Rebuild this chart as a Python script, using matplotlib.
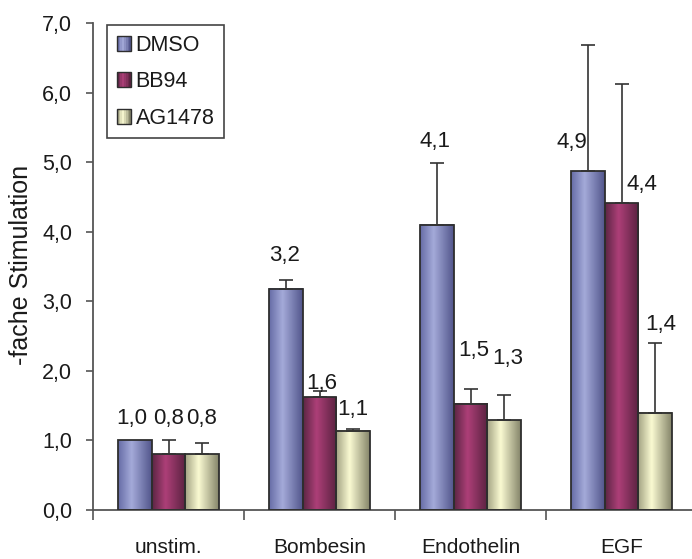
import numpy as np
import matplotlib
matplotlib.use("Agg")
import matplotlib.pyplot as plt
from matplotlib.patches import Rectangle
from matplotlib.legend_handler import HandlerBase
from matplotlib.colors import to_rgb

plt.rcParams['font.family'] = ['Liberation Sans', 'DejaVu Sans']

# ---- data ----
categories = ["unstim.", "Bombesin", "Endothelin", "EGF"]
series_names = ["DMSO", "BB94", "AG1478"]
dmso = [1.00, 3.18, 4.10, 4.87]
bb94 = [0.80, 1.62, 1.53, 4.41]
ag1478 = [0.80, 1.14, 1.29, 1.40]
dmso_err = [0.00, 0.13, 0.89, 1.81]
bb94_err = [0.20, 0.09, 0.21, 1.72]
ag1478_err = [0.17, 0.02, 0.36, 1.00]
y_ticks = [0, 1, 2, 3, 4, 5, 6, 7]

# label offsets (pixels) from bar top: (dx, dy)
label_offsets = [
    [(-3, 22), (-1, 33), (-2, 83), (-16, 29)],
    [(0, 36), (2, 14), (3, 53), (20, 19)],
    [(0, 36), (0, 21), (4, 62), (6, 88)],
]

values = [dmso, bb94, ag1478]
errors = [dmso_err, bb94_err, ag1478_err]

# gradient colour stops (left edge, highlight, right edge)
grad = [
    ("#666ca6", "#a4aad9", "#52568c"),
    ("#5c2644", "#ad3f78", "#5a2240"),
    ("#a3a383", "#fafad2", "#85856a"),
]

def gradient_rgb(stops, n=60):
    t = np.linspace(0, 1, n)
    c0, c1, c2 = (np.array(to_rgb(c)) for c in stops)
    out = np.zeros((n, 3))
    for i, ti in enumerate(t):
        if ti < 0.4:
            f = ti / 0.4
            out[i] = c0 * (1 - f) + c1 * f
        else:
            f = (ti - 0.4) / 0.6
            out[i] = c1 * (1 - f) + c2 * f
    return out[None, :, :]

fig = plt.figure(figsize=(6.92, 5.59), dpi=100)
ax = fig.add_axes([93 / 692, 49 / 559, 599 / 692, 487 / 559])

bar_w = 0.222
x = np.arange(len(categories))
edge = "#2e2e2e"
for s in range(3):
    offs = (s - 1) * bar_w
    img = gradient_rgb(grad[s])
    for i in range(len(categories)):
        v = values[s][i]
        x0 = x[i] + offs - bar_w / 2
        ax.imshow(img, extent=[x0, x0 + bar_w, 0, v], aspect='auto',
                  interpolation='bilinear', zorder=2)
        ax.add_patch(Rectangle((x0, 0), bar_w, v, facecolor='none',
                               edgecolor=edge, lw=1.3, zorder=3))
        e = errors[s][i]
        if e > 0:
            ax.errorbar(x[i] + offs, v, yerr=[[0], [e]], fmt='none',
                        ecolor="#333333", elinewidth=1.2, capsize=5,
                        capthick=1.2, zorder=4)
        lbl = f"{v:.1f}".replace(".", ",")
        dx, dy = label_offsets[s][i]
        ax.annotate(lbl, (x[i] + offs, v), xytext=(dx, dy),
                    textcoords='offset pixels', ha='center', va='center',
                    fontsize=16, color="#1a1a1a", zorder=5)

ax.set_xlim(-0.5, -0.5 + 599 / 151)
ax.set_ylim(0, 7)

for sp in ["top", "right"]:
    ax.spines[sp].set_visible(False)
for sp in ["left", "bottom"]:
    ax.spines[sp].set_color("#555555")
    ax.spines[sp].set_linewidth(1.3)

ax.set_yticks(y_ticks)
ax.set_yticklabels([f"{t:.1f}".replace(".", ",") for t in y_ticks])
ax.tick_params(axis='y', direction='out', length=5, width=1.2,
               color="#555555", labelsize=15.5, labelcolor="#1a1a1a", pad=10)

ax.set_xticks(np.arange(-0.5, 3.0, 1.0))
ax.set_xticklabels([])
ax.tick_params(axis='x', which='major', direction='out', length=7,
               width=1.2, color="#555555")
ax.set_xticks(x, minor=True)
ax.set_xticklabels(categories, minor=True)
ax.tick_params(axis='x', which='minor', length=0, labelsize=15,
               labelcolor="#1a1a1a", pad=20)

ax.set_ylabel("-fache Stimulation", fontsize=18, color="#1a1a1a")
ax.yaxis.set_label_coords((33 - 93) / 599, (510 - 264.5) / 487)


class GradHandler(HandlerBase):
    def __init__(self, stops):
        super().__init__()
        self.stops = stops

    def create_artists(self, legend, orig_handle, xdescent, ydescent,
                       width, height, fontsize, trans):
        arts = []
        img = gradient_rgb(self.stops, n=8)[0]
        n = len(img)
        for k in range(n):
            r = Rectangle((-xdescent + k * width / n, -ydescent), width / n,
                          height, facecolor=img[k], edgecolor='none',
                          transform=trans)
            arts.append(r)
        arts.append(Rectangle((-xdescent, -ydescent), width, height,
                              facecolor='none', edgecolor=edge, lw=1.0,
                              transform=trans))
        return arts


handles = [Rectangle((0, 0), 1, 1) for _ in range(3)]
leg = ax.legend(handles, series_names,
                handler_map={handles[i]: GradHandler(grad[i]) for i in range(3)},
                loc='upper left', bbox_to_anchor=((107 - 93) / 599, (510 - 25) / 487),
                borderaxespad=0, fontsize=15.5, handlelength=0.68,
                handleheight=0.68, handletextpad=0.2, labelspacing=0.72,
                borderpad=0.45, fancybox=False, framealpha=1,
                edgecolor="#444444")
leg.get_frame().set_linewidth(1.2)
for t in leg.get_texts():
    t.set_color("#1a1a1a")

fig.savefig("out.png", dpi=100)
